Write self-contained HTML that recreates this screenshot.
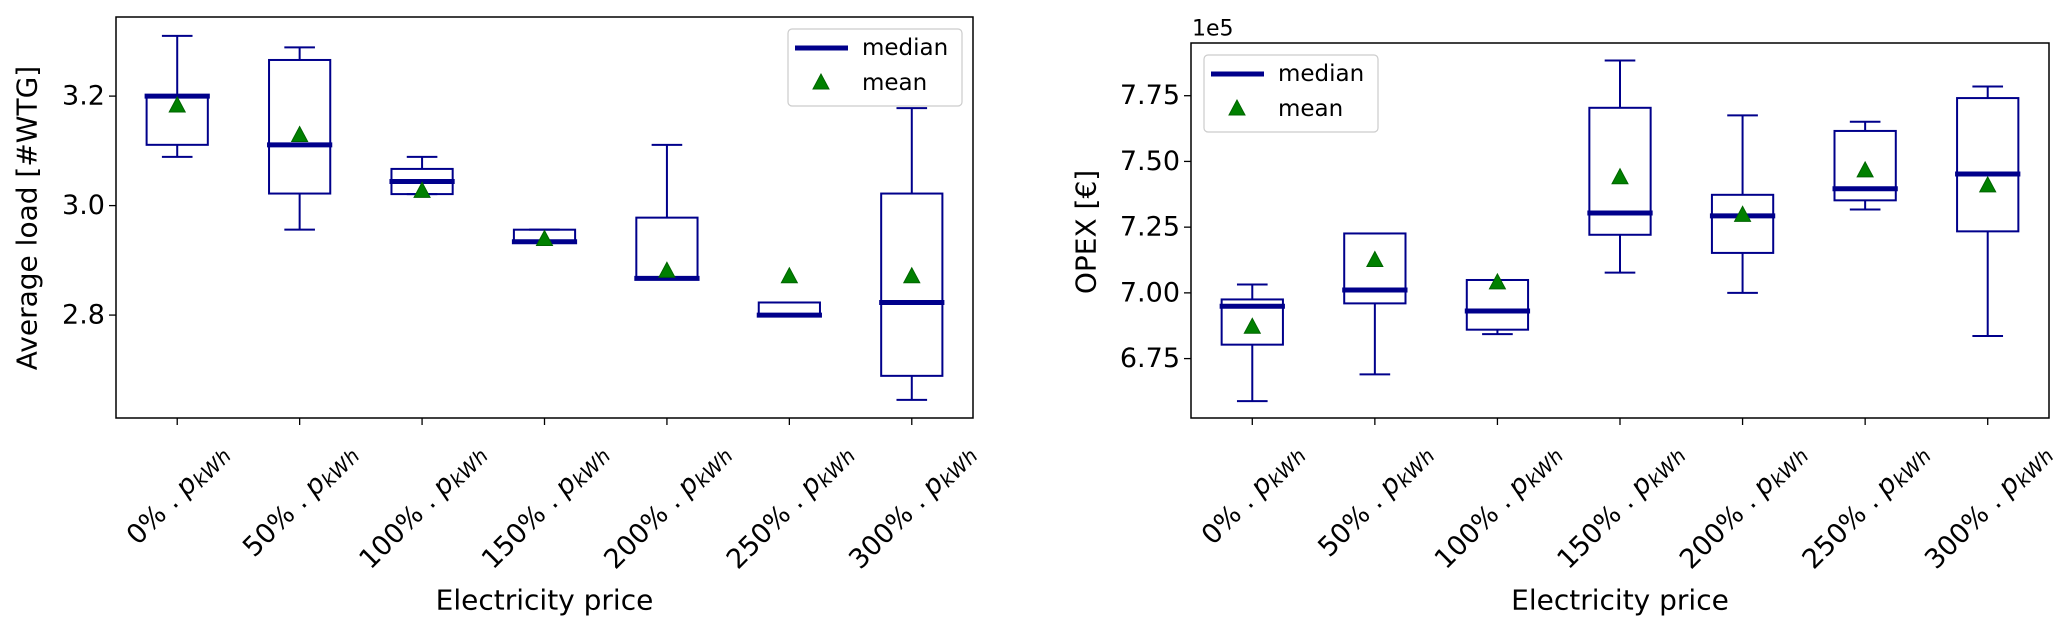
<!DOCTYPE html>
<html><head><meta charset="utf-8">
<style>
html,body{margin:0;padding:0;background:#fff;}
svg{display:block;font-family:"DejaVu Sans","Liberation Sans",sans-serif;}
</style></head>
<body>
<svg id="chart" width="2067" height="630" viewBox="0 0 2067 630" xmlns="http://www.w3.org/2000/svg"></svg>
<script>
const categories = ["0%", "50%", "100%", "150%", "200%", "250%", "300%"];
// Left panel: average load [#WTG]
const loadWhisLo = [3.089, 2.956, 3.021, 2.934, 2.867, 2.800, 2.645];
const loadQ1     = [3.111, 3.022, 3.021, 2.934, 2.867, 2.800, 2.689];
const loadMedian = [3.200, 3.111, 3.044, 2.934, 2.867, 2.800, 2.823];
const loadQ3     = [3.200, 3.266, 3.067, 2.956, 2.978, 2.823, 3.022];
const loadWhisHi = [3.310, 3.289, 3.089, 2.956, 3.111, 2.823, 3.178];
const loadMean   = [3.182, 3.128, 3.026, 2.938, 2.880, 2.870, 2.870];
const loadTicks  = ["2.8", "3.0", "3.2"];
// Right panel: OPEX [1e5 €]
const opexWhisLo = [6.588, 6.690, 6.843, 7.077, 7.000, 7.317, 6.836];
const opexQ1     = [6.803, 6.960, 6.860, 7.221, 7.152, 7.352, 7.234];
const opexMedian = [6.949, 7.011, 6.931, 7.304, 7.293, 7.396, 7.452];
const opexQ3     = [6.975, 7.226, 7.049, 7.704, 7.373, 7.616, 7.741];
const opexWhisHi = [7.032, 7.226, 7.049, 7.884, 7.675, 7.651, 7.785];
const opexMean   = [6.869, 7.123, 7.038, 7.438, 7.295, 7.464, 7.407];
const opexTicks  = ["6.75", "7.00", "7.25", "7.50", "7.75"];

const NS = "http://www.w3.org/2000/svg";
const svg = document.getElementById("chart");
const NAVY = "#00008b", GREEN = "#008000";
function mk(tag, attrs, parent) {
  const e = document.createElementNS(NS, tag);
  for (const k in attrs) e.setAttribute(k, attrs[k]);
  (parent || svg).appendChild(e);
  return e;
}

function panel(cfg) {
  const g = mk("g", {});
  
  
  const L = cfg.left, R = cfg.right, T = cfg.top, B = cfg.bottom;
  const n = categories.length;
  const xs = i => L + (i + 0.5) * (R - L) / n;
  const ys = v => B - (v - cfg.ymin) / (cfg.ymax - cfg.ymin) * (B - T);
  const bw = 0.5 * (R - L) / n;
  const capw = bw / 2;

  for (let i = 0; i < n; i++) {
    const bx = mk("g", {}, g);
    
    
    const x = xs(i);
    const st = {stroke: NAVY, "stroke-width": 2, fill: "none"};
    const wl = mk("line", Object.assign({x1: x, x2: x, y1: ys(cfg.q1[i]), y2: ys(cfg.lo[i])}, st), bx);
    
    
    const wh = mk("line", Object.assign({x1: x, x2: x, y1: ys(cfg.q3[i]), y2: ys(cfg.hi[i])}, st), bx);
    
    
    const cl = mk("line", Object.assign({x1: x - capw / 2, x2: x + capw / 2, y1: ys(cfg.lo[i]), y2: ys(cfg.lo[i])}, st), bx);
    
    
    const ch = mk("line", Object.assign({x1: x - capw / 2, x2: x + capw / 2, y1: ys(cfg.hi[i]), y2: ys(cfg.hi[i])}, st), bx);
    
    
    const r = mk("rect", Object.assign({x: x - bw / 2, y: ys(cfg.q3[i]), width: bw, height: Math.max(0, ys(cfg.q1[i]) - ys(cfg.q3[i]))}, st), bx);
    
    
    const m = mk("line", {x1: x - bw / 2 - 2, x2: x + bw / 2 + 2, y1: ys(cfg.med[i]), y2: ys(cfg.med[i]), stroke: NAVY, "stroke-width": 5}, bx);
    
    
    const my = ys(cfg.mean[i]);
    const tri = mk("polygon", {points: `${x},${my - 9} ${x - 8},${my + 6} ${x + 8},${my + 6}`, fill: GREEN, stroke: "#006400", "stroke-width": 1}, bx);
    
    
  }

  const fr = mk("rect", {x: L, y: T, width: R - L, height: B - T, fill: "none", stroke: "#000", "stroke-width": 1.5}, g);
  
  

  cfg.ticks.forEach(t => {
    const y = ys(parseFloat(t));
    const tk = mk("line", {x1: L - 7, x2: L, y1: y, y2: y, stroke: "#000", "stroke-width": 1.3}, g);
    
    
    const tl = mk("text", {x: L - 11, y: y, "text-anchor": "end", "dominant-baseline": "central", "font-size": 27, fill: "#000"}, g);
    tl.textContent = t;
    
    
  });

  for (let i = 0; i < n; i++) {
    const x = xs(i);
    const tk = mk("line", {x1: x, x2: x, y1: B, y2: B + 7, stroke: "#000", "stroke-width": 1.3}, g);
    
    
    const tl = mk("text", {x: 0, y: 0, "text-anchor": "middle", "dominant-baseline": "central", "font-size": 27, fill: "#000"}, g);
    
    
    const s1 = mk("tspan", {}, tl); s1.textContent = categories[i] + " . ";
    const s2 = mk("tspan", {"font-style": "italic"}, tl); s2.textContent = "p";
    const s3 = mk("tspan", {"font-style": "italic", "font-size": 20, dy: 6}, tl); s3.textContent = "kWh";
    const len = tl.getComputedTextLength();
    const cy = B + 30 + len * 0.3536;
    tl.setAttribute("transform", `translate(${x},${cy}) rotate(-45)`);
  }

  const xl = mk("text", {x: (L + R) / 2, y: 600, "text-anchor": "middle", "dominant-baseline": "central", "font-size": 28, fill: "#000"}, g);
  xl.textContent = "Electricity price";
  
  
  const yl = mk("text", {x: 0, y: 0, "text-anchor": "middle", "dominant-baseline": "central", "font-size": 28, fill: "#000", transform: `translate(${cfg.ylabX},${cfg.ylabY}) rotate(-90)`}, g);
  yl.textContent = cfg.ylabel;
  
  

  // legend
  const lg = mk("g", {}, g);
  
  
  const lx = cfg.legX, ly = cfg.legY;
  mk("rect", {x: lx, y: ly, width: 174, height: 77, rx: 4, fill: "#fff", "fill-opacity": 0.8, stroke: "#ccc", "stroke-width": 1.2}, lg);
  const e1 = mk("line", {x1: lx + 7, x2: lx + 60, y1: ly + 19, y2: ly + 19, stroke: NAVY, "stroke-width": 5}, lg);
  
  
  const t1 = mk("text", {x: lx + 74, y: ly + 19, "dominant-baseline": "central", "font-size": 23, fill: "#000"}, lg);
  t1.textContent = "median";
  
  
  const ty = ly + 54, tx = lx + 33;
  const e2 = mk("polygon", {points: `${tx},${ty - 9} ${tx - 8},${ty + 6} ${tx + 8},${ty + 6}`, fill: GREEN, stroke: "#006400", "stroke-width": 1}, lg);
  
  
  const t2 = mk("text", {x: lx + 74, y: ly + 54, "dominant-baseline": "central", "font-size": 23, fill: "#000"}, lg);
  t2.textContent = "mean";
  
  
  return g;
}

panel({name: "average-load-panel", left: 116, right: 973, top: 17, bottom: 418, ymin: 2.612, ymax: 3.3445,
  lo: loadWhisLo, q1: loadQ1, med: loadMedian, q3: loadQ3, hi: loadWhisHi, mean: loadMean, ticks: loadTicks,
  ylabel: "Average load [#WTG]", ylabX: 27, ylabY: 218, legX: 788, legY: 29});
const p2 = panel({name: "opex-panel", left: 1191, right: 2049, top: 43, bottom: 418, ymin: 6.524, ymax: 7.9505,
  lo: opexWhisLo, q1: opexQ1, med: opexMedian, q3: opexQ3, hi: opexWhisHi, mean: opexMean, ticks: opexTicks,
  ylabel: "OPEX [€]", ylabX: 1086, ylabY: 232, legX: 1204, legY: 55});
const off = mk("text", {x: 1192, y: 29, "dominant-baseline": "central", "font-size": 22, fill: "#000"}, p2);
off.textContent = "1e5";


</script>
</body></html>
